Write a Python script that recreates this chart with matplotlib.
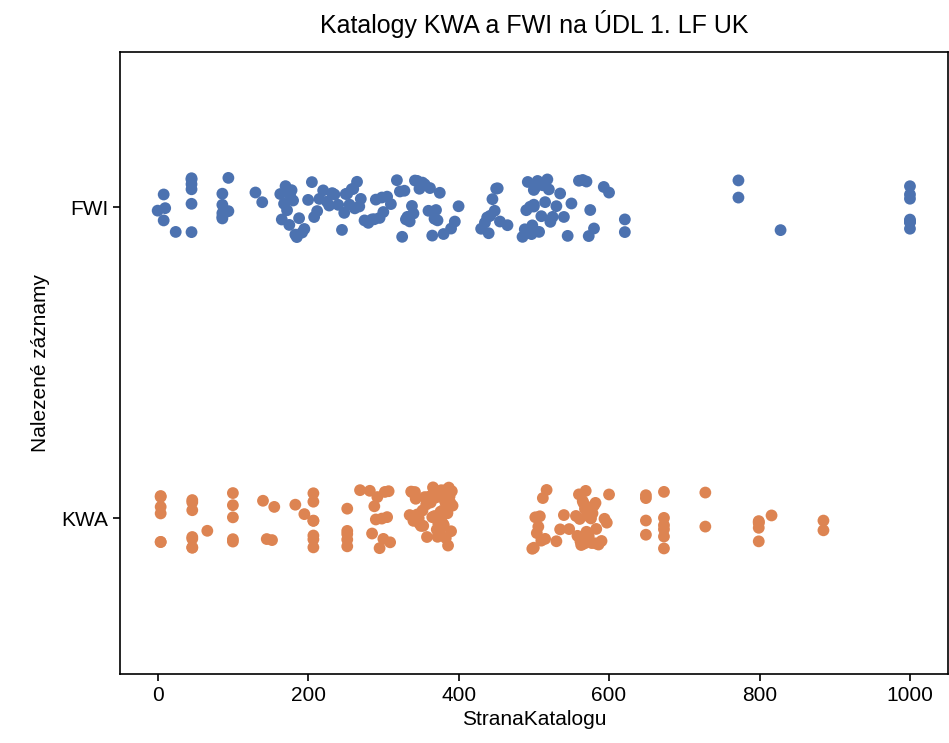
import numpy as np
import pandas as pd
import matplotlib
matplotlib.use("Agg")
import matplotlib.pyplot as plt
import seaborn as sns

plt.rcParams['font.family'] = ['Liberation Sans', 'DejaVu Sans']

categories = ["FWI", "KWA"]

fwi_pages = [0, 8, 8, 10, 24,
             45, 45, 45, 45, 45, 45,
             86, 86, 86, 86, 86, 94, 94, 130, 139,
             163, 165, 168, 170, 172, 175, 176, 178, 180, 183, 185, 188,
             192, 195, 200, 205, 208, 212, 215, 220, 225, 228,
             232, 235, 240, 245, 248, 250, 252, 255, 258, 260, 262, 265, 268, 270,
             275, 280, 285, 288, 290, 295, 298, 300,
             305, 310, 318,
             322, 325, 328, 330, 332, 335, 338, 340, 342, 345, 348,
             350, 352, 355, 360, 362, 365, 368, 370, 372, 375, 380,
             390, 395, 400,
             430, 435, 438, 440, 442, 445, 448, 450, 452, 455,
             465,
             485, 488, 490, 492, 495, 497, 498, 500, 500, 500, 502, 505, 507,
             510, 512, 515, 518, 520, 522, 525, 530, 535, 540, 545, 550,
             560, 565, 570, 573, 575, 580,
             593, 600, 621, 621, 772, 772, 828,
             1000, 1000, 1000, 1000, 1000, 1000, 1000, 1000]

kwa_pages = [4, 4, 4, 4, 4, 4,
             46, 46, 46, 46, 46, 46, 46,
             66, 100, 100, 100, 100, 100,
             140, 145, 152, 155, 183, 195,
             207, 207, 207, 207, 207, 207, 207,
             252, 252, 252, 252, 252, 269,
             282, 285, 288, 290, 292, 295, 298, 300, 302, 305, 307, 309,
             335, 337, 338, 340, 342, 343, 345, 347, 348, 350,
             352, 353, 355, 357, 358, 360, 362, 363, 365, 366,
             367, 368, 370, 371, 372, 373, 375, 376, 377, 378,
             379, 380, 381, 382, 383, 384, 385, 386, 387, 388,
             375, 378, 380, 383, 385, 387, 389, 390, 391, 392,
             498, 500, 502, 504, 506, 508, 510, 512, 515, 517,
             530, 535, 540, 547,
             556, 558, 560, 561, 562, 563, 565, 566, 567, 568,
             569, 570, 571, 572, 574, 576, 578, 580, 582, 583,
             573, 577, 582, 586, 590, 594, 597, 600,
             649, 649, 649, 649, 673, 673, 673, 673, 673, 673,
             728, 728, 799, 799, 799, 799, 799, 816, 885, 885]

df = pd.DataFrame({
    "StranaKatalogu": fwi_pages + kwa_pages,
    "Nalezené záznamy": ["FWI"] * len(fwi_pages) + ["KWA"] * len(kwa_pages),
})

fig = plt.figure(figsize=(9.49, 7.43), dpi=100)
ax = fig.add_axes([0.1265, 0.093, 0.872, 0.837])

np.random.seed(3)
sns.stripplot(data=df, x="StranaKatalogu", y="Nalezené záznamy", order=categories,
              hue="Nalezené záznamy", hue_order=categories,
              palette=["#4C72B0", "#DD8452"], size=8.5, jitter=True,
              legend=False, ax=ax)

ax.set_title("Katalogy KWA a FWI na ÚDL 1. LF UK", fontsize=18, pad=14)
ax.set_xlabel("StranaKatalogu", fontsize=15, labelpad=4)
ax.set_ylabel("Nalezené záznamy", fontsize=15, labelpad=8)
ax.set_xticks([0, 200, 400, 600, 800, 1000])
ax.tick_params(labelsize=15, length=5, width=1.2)
for s in ax.spines.values():
    s.set_linewidth(1.2)
    s.set_visible(True)
ax.set_xlim(-50, 1050)

fig.savefig("out.png", dpi=100)
